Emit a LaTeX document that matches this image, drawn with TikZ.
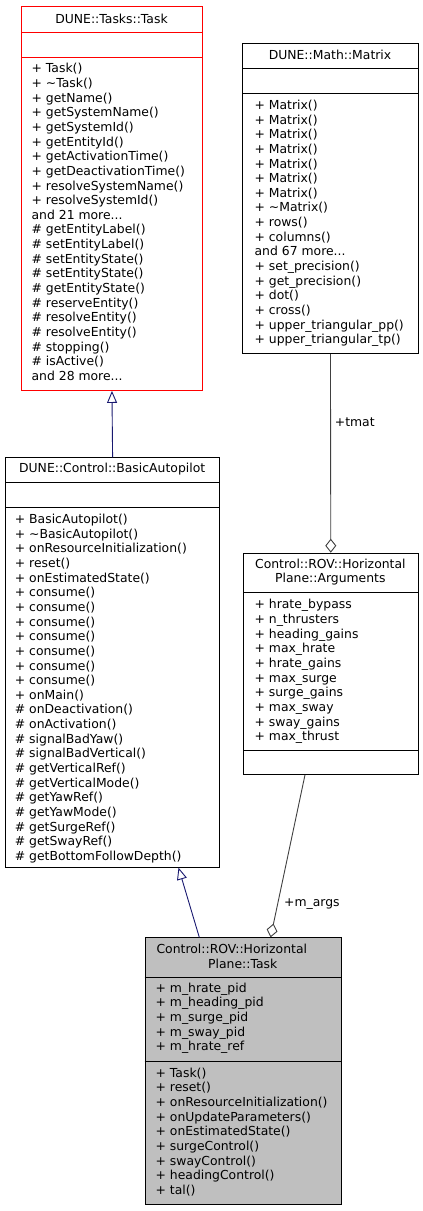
\documentclass[tikz,border=0pt]{standalone}
\usepackage{fontspec}
\setmainfont{DejaVu Sans}
\usetikzlibrary{arrows.meta,calc}
\definecolor{edgeblue}{HTML}{191970}
\definecolor{edgegray}{HTML}{404040}
\definecolor{fillgray}{HTML}{BFBFBF}
\newcommand\mdots{...}
\newcommand\mlist[4]{%
  \foreach \t [count=\i from 0] in {#4} {\node[txt] (#1-\i) at ({#2},{#3+\i*14.65}) {\t};}}
\newcommand\umlbox[8]{% name, x, y, w, h, sep1, sep2, style
  \node[box,#8,minimum width=#4pt,minimum height=#5pt] (#1) at (#2,#3) {};
  \draw[sepline,#8] ($(#1.north west)+(0,#6)$) -- ($(#1.north east)+(0,#6)$);
  \draw[sepline,#8] ($(#1.north west)+(0,#7)$) -- ($(#1.north east)+(0,#7)$);}
\begin{document}
\begin{tikzpicture}[x=1pt,y=-1pt,
  box/.style={draw=black, line width=0.9pt, inner sep=0pt, anchor=north west},
  sepline/.style={draw=black, line width=0.9pt},
  redbox/.style={draw=red},
  blackbox/.style={draw=black},
  graybox/.style={draw=black, fill=fillgray},
  txt/.style={inner sep=0pt, anchor=base west, font=\fontsize{12.4}{14.65}\selectfont},
  ttl/.style={inner sep=0pt, anchor=base, font=\fontsize{12.4}{14.65}\selectfont},
  inh/.style={draw=edgeblue, line width=0.9pt, -{Triangle[open, length=12pt, width=10pt]}},
  comp/.style={draw=edgegray, line width=0.9pt, -{Diamond[open, length=14pt, width=11pt]}},
  lbl/.style={inner sep=0pt, anchor=base west, font=\fontsize{12.4}{14.65}\selectfont}
]
\fill[white] (0,0) rectangle (423,1211);
\useasboundingbox (0,0) rectangle (423,1211);

% DUNE::Tasks::Task
\umlbox{task}{21}{6}{181}{384}{26}{51}{redbox}
\node[ttl] (task-t) at (111.5,23) {DUNE::Tasks::Task};
\mlist{task}{31.4}{72.8}{+ Task(),+ \textasciitilde{}Task(),+ getName(),+ getSystemName(),+ getSystemId(),+ getEntityId(),+ getActivationTime(),+ getDeactivationTime(),+ resolveSystemName(),+ resolveSystemId(),and 21 more\mdots,\# getEntityLabel(),\# setEntityLabel(),\# setEntityState(),\# setEntityState(),\# getEntityState(),\# reserveEntity(),\# resolveEntity(),\# resolveEntity(),\# stopping(),\# isActive(),and 28 more\mdots}

% DUNE::Math::Matrix
\umlbox{mat}{242.3}{43.3}{175.4}{310}{25.4}{50}{blackbox}
\node[ttl] (mat-t) at (330,59.5) {DUNE::Math::Matrix};
\mlist{mat}{254.4}{109.4}{+ Matrix(),+ Matrix(),+ Matrix(),+ Matrix(),+ Matrix(),+ Matrix(),+ Matrix(),+ \textasciitilde{}Matrix(),+ rows(),+ columns(),and 67 more\mdots,+ set\_precision(),+ get\_precision(),+ dot(),+ cross(),+ upper\_triangular\_pp(),+ upper\_triangular\_tp()}

% DUNE::Control::BasicAutopilot
\umlbox{ba}{5}{457.3}{214.3}{409.4}{25.4}{50.4}{blackbox}
\node[ttl] (ba-t) at (112.15,472.8) {DUNE::Control::BasicAutopilot};
\mlist{ba}{14.7}{523.5}{+ BasicAutopilot(),+ \textasciitilde{}BasicAutopilot(),+ onResourceInitialization(),+ reset(),+ onEstimatedState(),+ consume(),+ consume(),+ consume(),+ consume(),+ consume(),+ consume(),+ consume(),+ onMain(),\# onDeactivation(),\# onActivation(),\# signalBadYaw(),\# signalBadVertical(),\# getVerticalRef(),\# getVerticalMode(),\# getYawRef(),\# getYawMode(),\# getSurgeRef(),\# getSwayRef(),\# getBottomFollowDepth()}

% Control::ROV::HorizontalPlane::Arguments
\umlbox{args}{243}{552.7}{174.7}{221.3}{40}{197.3}{blackbox}
\node[ttl] (args-t1) at (330.35,568.5) {Control::ROV::Horizontal};
\node[ttl] (args-t2) at (330.35,582.8) {Plane::Arguments};
\mlist{args}{254.4}{608.8}{+ hrate\_bypass,+ n\_thrusters,+ heading\_gains,+ max\_hrate,+ hrate\_gains,+ max\_surge,+ surge\_gains,+ max\_sway,+ sway\_gains,+ max\_thrust}

% Control::ROV::HorizontalPlane::Task
\umlbox{bot}{144.7}{937.3}{196}{266.7}{40}{124.4}{graybox}
\node[ttl] (bot-t1) at (231.8,953.8) {Control::ROV::Horizontal};
\node[ttl] (bot-t2) at (242.7,968.2) {Plane::Task};
\mlist{bota}{155.4}{992.2}{+ m\_hrate\_pid,+ m\_heading\_pid,+ m\_surge\_pid,+ m\_sway\_pid,+ m\_hrate\_ref}
\mlist{botm}{155.4}{1077.2}{+ Task(),+ reset(),+ onResourceInitialization(),+ onUpdateParameters(),+ onEstimatedState(),+ surgeControl(),+ swayControl(),+ headingControl(),+ tal()}

% connectors
\draw[inh] (ba.north) -- (task.south);
\draw[inh] ($(bot.north west)+(54.6,0)$) -- ($(ba.south west)+(173.5,0)$);
\draw[comp] (mat.south) -- (args.north);
\draw[comp] ($(args.south west)+(62,0)$) -- ($(bot.north west)+(125.9,0)$);
\node[lbl] (tmat) at (334.7,426.7) {+tmat};
\node[lbl] (margs) at (284,906.8) {+m\_args};
\end{tikzpicture}
\end{document}
